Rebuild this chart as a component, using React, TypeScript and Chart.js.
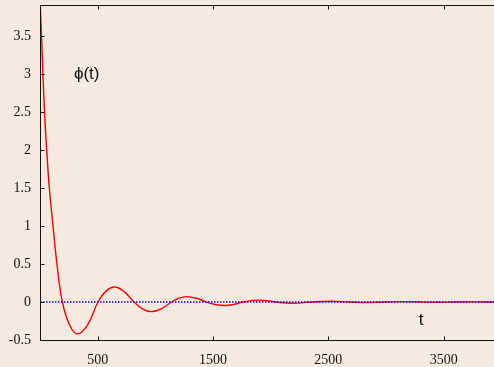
import React, { useEffect, useRef } from "react";
import { Chart, registerables } from "chart.js";

Chart.register(...registerables);

// Data
const tValues = [0, 18, 36, 58, 81, 113, 147, 194, 259, 324, 413, 503, 578, 653, 734, 815, 888, 962, 1050, 1141, 1205, 1270, 1356, 1442, 1520, 1600, 1680, 1760, 1905, 2040, 2190, 2350, 2520, 2680, 2830, 2990, 3140, 3300, 3450, 3610, 3770, 3936];
const phiValues = [4.0, 3.3, 2.6, 2.0, 1.5, 1.0, 0.5, 0, -0.31, -0.42, -0.3, 0, 0.15, 0.197, 0.13, 0, -0.09, -0.127, -0.09, 0, 0.05, 0.071, 0.05, 0, -0.033, -0.047, -0.033, 0, 0.025, 0, -0.017, 0, 0.01, 0, -0.007, 0, 0.005, 0, -0.003, 0, 0.002, 0];
const zeroT = [0, 3936];
const zeroValues = [0, 0];
const xTicks = [500, 1500, 2500, 3500];
const yTicks = [-0.5, 0, 0.5, 1, 1.5, 2, 2.5, 3, 3.5];
const xMin = 0;
const xMax = 3936;
const yMin = -0.5;
const yMax = 3.908;
const curveLabel = "ϕ(t)";
const curveLabelPos = [405, 3.0];
const axisLabel = "t";
const axisLabelPos = [3305, -0.24];

const BG = "#F4EAE0";

const framePlugin = {
  id: "frame",
  beforeDraw(chart: any) {
    const { ctx, width, height } = chart;
    ctx.save();
    ctx.fillStyle = BG;
    ctx.fillRect(0, 0, width, height);
    ctx.restore();
  },
  afterDraw(chart: any) {
    const { ctx, chartArea, scales } = chart;
    const { left, right, top, bottom } = chartArea;
    const x = scales.x;
    const y = scales.y;
    ctx.save();
    ctx.strokeStyle = "#111";
    ctx.lineWidth = 1;
    ctx.beginPath();
    const L = Math.round(left) + 0.5;
    const T = Math.round(top) + 0.5;
    const B = Math.round(bottom) + 0.5;
    ctx.moveTo(L, T);
    ctx.lineTo(right, T);
    ctx.moveTo(L, T);
    ctx.lineTo(L, B);
    ctx.lineTo(right, B);
    const tl = 4;
    for (const v of yTicks) {
      const py = Math.round(y.getPixelForValue(v)) + 0.5;
      ctx.moveTo(L, py);
      ctx.lineTo(L + tl, py);
    }
    for (const v of xTicks) {
      const px = Math.round(x.getPixelForValue(v)) + 0.5;
      ctx.moveTo(px, B);
      ctx.lineTo(px, B - tl);
      ctx.moveTo(px, T);
      ctx.lineTo(px, T + tl);
    }
    ctx.stroke();

    ctx.fillStyle = "#111";
    ctx.font = "17px 'Liberation Sans', Arial, sans-serif";
    ctx.textAlign = "center";
    ctx.textBaseline = "middle";
    ctx.fillText(curveLabel, x.getPixelForValue(curveLabelPos[0]), y.getPixelForValue(curveLabelPos[1]));
    ctx.fillText(axisLabel, x.getPixelForValue(axisLabelPos[0]), y.getPixelForValue(axisLabelPos[1]));
    ctx.restore();
  },
};

export default function App() {
  const ref = useRef<HTMLCanvasElement | null>(null);
  useEffect(() => {
    if (!ref.current) return;
    const tickFont = { family: "'Liberation Serif', 'DejaVu Serif', serif", size: 14 };
    const chart = new Chart(ref.current, {
      type: "line",
      data: {
        datasets: [
          {
            data: zeroT.map((t, i) => ({ x: t, y: zeroValues[i] })),
            borderColor: "#0000ff",
            borderWidth: 1.5,
            borderDash: [1.5, 1.5],
            pointRadius: 0,
            order: 0,
          },
          {
            data: tValues.map((t, i) => ({ x: t, y: phiValues[i] })),
            borderColor: "#ff0000",
            borderWidth: 1.4,
            pointRadius: 0,
            tension: 0.4,
            order: 1,
          },
        ],
      },
      options: {
        animation: false,
        responsive: false,
        devicePixelRatio: 1,
        layout: { padding: { top: 5, left: 0, right: 0, bottom: 0 } },
        plugins: { legend: { display: false }, tooltip: { enabled: false } },
        scales: {
          x: {
            type: "linear",
            min: xMin,
            max: xMax,
            grid: { display: false, drawTicks: false, tickLength: 0 },
            border: { display: false },
            ticks: {
              font: tickFont,
              color: "#111",
              padding: 12,
              maxRotation: 0,
              callback: (v: any) => String(v),
            },
            afterBuildTicks: (s: any) => {
              s.ticks = xTicks.map((v) => ({ value: v }));
            },
            afterFit: (s: any) => {
              s.height = 27;
              s.paddingLeft = 0;
              s.paddingRight = 0;
            },
          },
          y: {
            type: "linear",
            min: yMin,
            max: yMax,
            grid: { display: false, drawTicks: false, tickLength: 0 },
            border: { display: false },
            ticks: {
              font: tickFont,
              color: "#111",
              padding: 9,
              callback: (v: any) => String(v),
            },
            afterBuildTicks: (s: any) => {
              s.ticks = yTicks.map((v) => ({ value: v }));
            },
            afterFit: (s: any) => {
              s.width = 40;
              s.paddingTop = 0;
              s.paddingBottom = 0;
            },
          },
        },
      },
      plugins: [framePlugin],
    } as any);
    return () => chart.destroy();
  }, []);
  return (
    <div style={{ position: "fixed", left: 0, top: 0, width: 494, height: 367, background: BG }}>
      <canvas ref={ref} width={494} height={367} style={{ display: "block" }} />
    </div>
  );
}
